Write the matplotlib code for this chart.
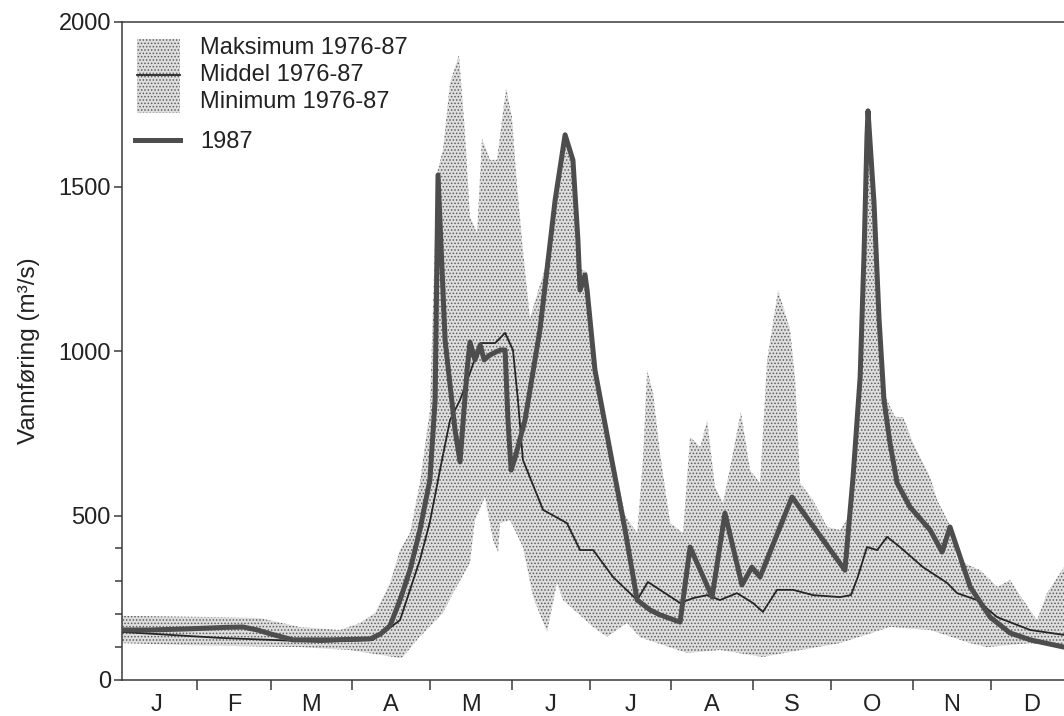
import numpy as np
import matplotlib
matplotlib.use('Agg')
import matplotlib.pyplot as plt
from matplotlib.patches import Rectangle
from matplotlib.lines import Line2D

plt.rcParams['font.family'] = ['Liberation Sans', 'DejaVu Sans']
plt.rcParams['hatch.linewidth'] = 0.7

# Vannføring, dag i året (x) og m3/s (y), lest av figuren
days_1987 = [2.3, 13, 26, 36, 42, 48.5, 54, 59, 67.6, 82, 97, 101, 104.6, 108.4, 112.2, 116,
             119.8, 121.8, 122.9, 125.6, 129.4, 131.3, 134, 135.1, 137, 139, 140.5, 142.7,
             146.6, 148.5, 149.6, 150.8, 152.3, 156.1, 161.8, 167.6, 171.4, 174.4, 176.3,
             177.1, 179, 179.8, 182.8, 188.5, 194.3, 198.9, 203.8, 207.6, 215.3, 219.1,
             227.5, 232.4, 238.9, 242.7, 245.8, 258, 278.2, 281.3, 284, 285.5, 286.6, 287,
             289.3, 291.2, 293.1, 295.4, 298.1, 303, 310.7, 315.3, 318.3, 326, 333.6, 341.2,
             348.9, 361.8]
flow_1987 = [152, 152, 155, 158, 160, 161, 152, 140, 122, 122, 125, 140, 165, 243, 334, 456,
             608, 851, 1535, 1033, 760, 663, 942, 1027, 973, 1018, 973, 988,
             1003, 1003, 790, 638, 675, 790, 1064, 1459, 1657, 1580, 1337,
             1185, 1231, 1185, 942, 699, 456, 243, 213, 198, 176, 404,
             252, 507, 289, 343, 313, 556, 334, 617, 921, 1300, 1650, 1730,
             1450, 1100, 851, 720, 599, 526, 456, 389, 465, 283, 191, 143,
             122, 100]

days_mean = [2.3, 39.7, 77.9, 98.1, 103.4, 108.4, 116, 119.8, 123.7, 127.5, 131.3, 135.1,
             139, 144.7, 148.5, 151.5, 153.4, 155.3, 163, 172.1, 177.1, 182.1, 189.7,
             198.9, 203, 207.6, 215.3, 220.3, 225.6, 230.5, 237, 243.1, 246.9, 252.3,
             258.4, 266, 276.3, 280.5, 283.1, 286.6, 290.5, 294.3, 299.2, 308, 317.2,
             321, 328.6, 336.3, 348.9, 361.8]
flow_mean = [146, 128, 116, 122, 152, 182, 365, 480, 640, 790, 851, 933,
             1024, 1024, 1055, 1003, 851, 669, 517, 477, 395, 395, 313,
             243, 298, 274, 234, 249, 258, 243, 264, 234, 207, 274,
             274, 258, 252, 258, 313, 404, 395, 435, 404, 343, 295,
             264, 243, 191, 152, 137]

days_max = [2.3, 39.7, 55, 70.2, 85.5, 93.1, 98.9, 104.6, 108.4, 112.2, 116, 119.8, 122.5,
            124.8, 127.5, 130.9, 133.2, 135.1, 137.8, 139.7, 142.7, 145.4, 148.9, 151.1,
            153, 155.3, 158, 163.7, 167.6, 171.4, 174.4, 177.1, 179.8, 182.8, 188.5,
            194.3, 198.9, 201.1, 202.7, 205, 207.6, 211.5, 216.4, 219.1, 223, 225.6,
            228.6, 231.7, 234.4, 238.5, 242, 245.8, 248.5, 252.7, 257.3, 259.2, 261.1,
            266, 271.4, 276.3, 280.2, 284, 287, 290, 293.1, 297.3, 300.4, 304.2, 310.7,
            313.4, 318.3, 321, 329.8, 336.3, 341.2, 346.2, 351.5, 355.3, 361.8]
flow_max = [195, 191, 188, 161, 152, 173, 204, 295, 395, 447, 599, 820, 1540,
            1611, 1815, 1900, 1663, 1407, 1359, 1647, 1581, 1581, 1800, 1711,
            1510, 1307, 1100, 1250, 1480, 1670, 1590, 1250, 1240, 960, 720,
            500, 447, 669, 942, 872, 690, 477, 447, 739, 708, 790,
            587, 538, 647, 815, 638, 599, 973, 1185, 1064, 912, 599,
            547, 465, 456, 500, 930, 1740, 1320, 870, 800, 799, 720, 617,
            547, 470, 365, 334, 283, 304, 243, 182, 264, 343]

days_min = [2.3, 32, 70.2, 89.3, 108.4, 109.5, 114.9, 124.8, 128.6, 135.1, 137, 140.8,
            143.9, 145.8, 146.6, 150.4, 155.3, 159.2, 164.5, 168.3, 170.6, 182.1, 187.4,
            195, 200, 217.9, 230.5, 246.9, 261.1, 276.3, 295.4, 310.7, 326, 332.4,
            348.9, 361.8]
flow_min = [112, 105, 100, 91, 67, 70, 122, 204, 264, 356, 486, 556,
            426, 386, 477, 486, 404, 252, 146, 295, 243, 161, 131,
            173, 130, 82, 91, 70, 91, 112, 161, 152, 112, 100,
            112, 100]

month_start = [0, 31, 59, 90, 120, 151, 181, 212, 243, 273, 304, 334, 365]
month_labels = ['J', 'F', 'M', 'A', 'M', 'J', 'J', 'A', 'S', 'O', 'N', 'D']

band_face = '#dedede'
band_dots = '#5e5e5e'
ink = '#3a3a3a'

fig = plt.figure(figsize=(10.64, 7.16), dpi=100)
ax = fig.add_axes([122 / 1064, 36 / 716, 942 / 1064, 658 / 716])

# max-min band
ax.fill(np.concatenate([days_max, days_min[::-1]]),
        np.concatenate([flow_max, flow_min[::-1]]),
        facecolor=band_face, edgecolor=band_dots, linewidth=0, hatch='.....', zorder=1)
ax.plot(days_mean, flow_mean, color='#262626', lw=1.3, zorder=3)
ax.plot(days_1987, flow_1987, color='#4d4d4d', lw=3.6,
        solid_joinstyle='round', solid_capstyle='round', zorder=4)

ax.set_xlim(2.3, 361.8)
ax.set_ylim(0, 2000)

ax.set_xticks(month_start[1:-1])
ax.set_xticklabels([])
mids = [(a + b) / 2 for a, b in zip(month_start[:-1], month_start[1:])]
ax.set_xticks(mids, minor=True)
ax.set_xticklabels(month_labels, minor=True)
ax.tick_params(axis='x', which='major', direction='out', length=7, width=1.1, color=ink)
ax.tick_params(axis='x', which='minor', length=0, pad=10, labelsize=17, labelcolor='#222222')

ax.set_yticks([0, 500, 1000, 1500, 2000])
ax.set_yticks([100, 200, 300, 400], minor=True)
ax.tick_params(axis='y', which='major', direction='out', length=6, width=1.1, pad=2,
               labelsize=17, color=ink, labelcolor='#222222')
ax.tick_params(axis='y', which='minor', direction='out', length=5, width=1.1, color=ink)

ax.set_ylabel('Vannføring (m³/s)', fontsize=17.5, color='#222222', labelpad=13)

for s in ['left', 'bottom', 'top']:
    ax.spines[s].set_color(ink)
    ax.spines[s].set_linewidth(1.1)
ax.spines['right'].set_visible(False)

# legend, drawn by hand like the original
tr = ax.transAxes
ax.add_patch(Rectangle((0.0159, 0.862), 0.0456, 0.112, transform=tr,
                       facecolor=band_face, edgecolor=band_dots, linewidth=0,
                       hatch='.....', zorder=5))
ax.add_line(Line2D([0.0159, 0.0615], [0.919, 0.919], transform=tr,
                   color='#262626', lw=1.3, zorder=6))
ax.add_line(Line2D([0.014, 0.0615], [0.820, 0.820], transform=tr,
                   color='#4d4d4d', lw=3.6, zorder=6))
legend_text = ['Maksimum 1976-87', 'Middel 1976-87', 'Minimum 1976-87', '1987']
legend_y = [0.960, 0.919, 0.878, 0.818]
for t, y in zip(legend_text, legend_y):
    ax.text(0.0828, y, t, transform=tr, fontsize=17, va='center', ha='left',
            color='#222222', zorder=6)

fig.savefig('out.png', dpi=100)
